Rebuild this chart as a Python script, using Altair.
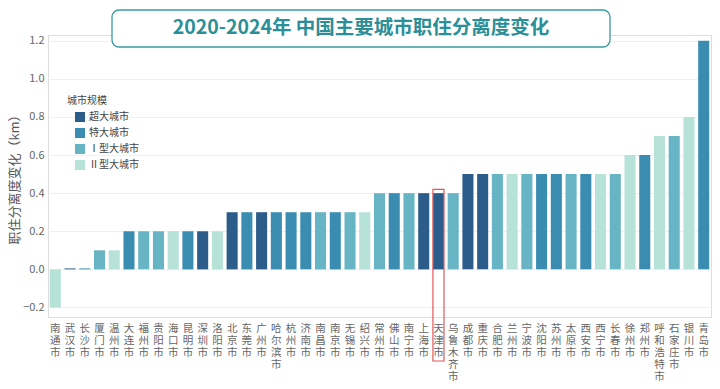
import altair as alt
import pandas as pd

cities = ["南通市", "武汉市", "长沙市", "厦门市", "温州市", "大连市", "福州市", "贵阳市", "海口市", "昆明市",
          "深圳市", "洛阳市", "北京市", "东莞市", "广州市", "哈尔滨市", "杭州市", "济南市", "南昌市", "南京市",
          "无锡市", "绍兴市", "常州市", "佛山市", "南宁市", "上海市", "天津市", "乌鲁木齐市", "成都市", "重庆市",
          "合肥市", "兰州市", "宁波市", "沈阳市", "苏州市", "太原市", "西安市", "西宁市", "长春市", "徐州市",
          "郑州市", "呼和浩特市", "石家庄市", "银川市", "青岛市"]
values = [-0.2, 0.005, 0.005, 0.1, 0.1, 0.2, 0.2, 0.2, 0.2, 0.2,
          0.2, 0.2, 0.3, 0.3, 0.3, 0.3, 0.3, 0.3, 0.3, 0.3,
          0.3, 0.3, 0.4, 0.4, 0.4, 0.4, 0.4, 0.4, 0.5, 0.5,
          0.5, 0.5, 0.5, 0.5, 0.5, 0.5, 0.5, 0.5, 0.5, 0.6,
          0.6, 0.7, 0.7, 0.8, 1.2]
S, T, I, II = "超大城市", "特大城市", "Ⅰ型大城市", "Ⅱ型大城市"
sizes = [II, S, T, I, II, T, I, I, II, T,
         S, II, S, T, S, T, T, T, I, T,
         I, II, I, T, I, S, S, I, S, S,
         I, II, I, T, T, I, T, II, I, II,
         T, II, I, II, T]
categories = [S, T, I, II]
colors = ["#2c5d8a", "#3a8db1", "#67b4c4", "#b7e2d7"]
y_ticks = [-0.2, 0.0, 0.2, 0.4, 0.6, 0.8, 1.0, 1.2]
highlight_city = "天津市"
title_text = "2020-2024年 中国主要城市职住分离度变化"

df = pd.DataFrame({"city": cities, "value": values, "size": sizes})
hl = pd.DataFrame({"city": [highlight_city], "value": [values[cities.index(highlight_city)]]})

W, H = 663, 282
FONT = "Noto Sans CJK SC"

x_scale = alt.Scale(domain=cities, paddingInner=0.25, paddingOuter=0.12)
x_enc = alt.X("city:N", sort=cities, title=None, scale=x_scale,
              axis=alt.Axis(labelAngle=0, labelExpr="split(datum.label, '')",
                            labelBaseline="top", labelLineHeight=12, labelFontSize=10.5,
                            labelColor="#666666", labelFont=FONT, ticks=False, domain=False,
                            labelPadding=6, labelOverlap=False))
y_scale = alt.Scale(domain=[-0.25, 1.23], nice=False)

bars = alt.Chart(df).mark_bar(cornerRadius=0).encode(
    x=x_enc,
    y=alt.Y("value:Q", scale=y_scale, title="职住分离度变化（km）",
            axis=alt.Axis(values=y_ticks, format=".1f", grid=True, gridColor="#f0f0f0",
                          domain=False, ticks=False, labelColor="#666666", labelFontSize=11,
                          labelFont=FONT, labelPadding=4, titleFont=FONT, titleFontSize=13,
                          titleFontWeight="normal", titleColor="#555555", titlePadding=1)),
    color=alt.Color("size:N", scale=alt.Scale(domain=categories, range=colors),
                    legend=alt.Legend(title="城市规模", orient="none", legendX=19, legendY=61,
                                      symbolType="square", symbolSize=100, symbolOffset=8,
                                      symbolStrokeWidth=0, rowPadding=6,
                                      titleFont=FONT, titleFontSize=10, titleFontWeight="normal",
                                      titleColor="#444444", labelFont=FONT, labelFontSize=10,
                                      labelColor="#444444", titlePadding=6))
)

box = alt.Chart(hl).mark_rect(fill=None, stroke="#e0595a", strokeWidth=1.2, clip=False).encode(
    x=alt.X("city:N", scale=x_scale, title=None),
    y=alt.Y("y:Q", scale=y_scale),
    y2=alt.value(H + 44),
).transform_calculate(y="datum.value + 0.02")

title_box = alt.Chart(hl).mark_rect(fill="white", stroke="#3a9aa3", strokeWidth=1.3,
                                    cornerRadius=7, clip=False).encode(
    x=alt.value(64), x2=alt.value(562), y=alt.value(-25), y2=alt.value(12))
title = alt.Chart(hl).mark_text(text=title_text, font=FONT, fontSize=19.5, fontWeight="bold",
                                color="#2b8f98", align="center", baseline="middle").encode(
    x=alt.value(313), y=alt.value(-7))

chart = alt.layer(bars, box, title_box, title).properties(
    width=W, height=H,
    autosize=alt.AutoSizeParams(type="none"),
    padding={"left": 40, "top": 27, "right": 1, "bottom": 64},
).configure_view(stroke=None).configure(font=FONT)

chart.save("out.html", embed_options={"renderer": "svg", "actions": False})
